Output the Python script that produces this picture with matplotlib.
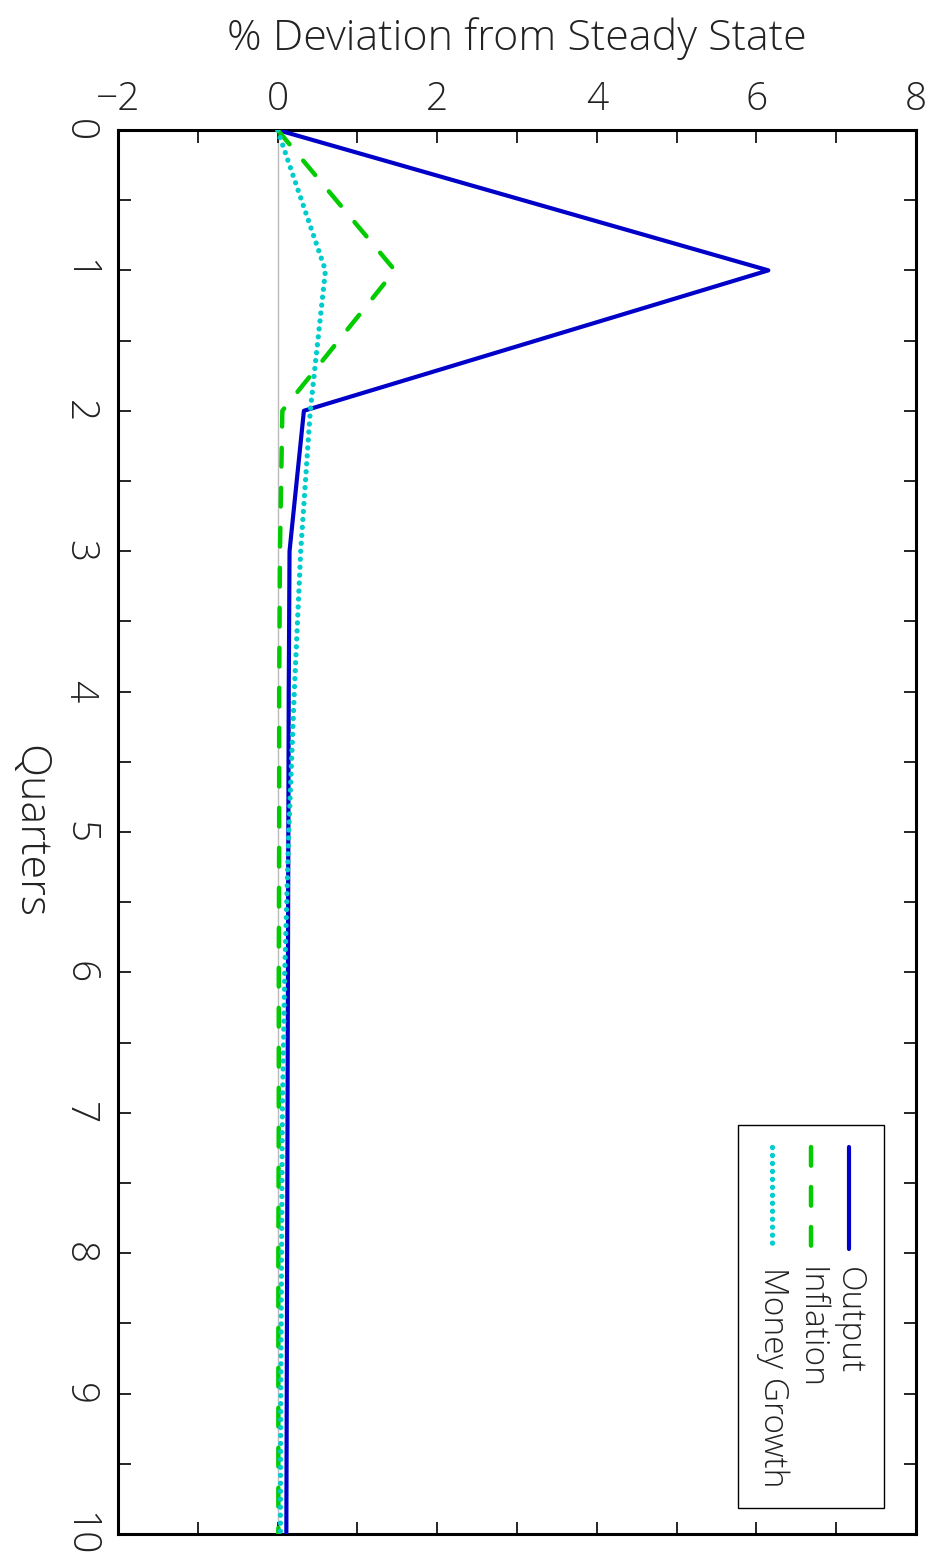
import matplotlib
matplotlib.use("Agg")
import matplotlib.pyplot as plt
from matplotlib.lines import Line2D
from matplotlib.patches import Rectangle

# 季度与各序列（偏离稳态的百分比）
quarters = [0, 1, 2, 3, 4, 5, 6, 7, 8, 9, 10]
output = [0.0, 6.15, 0.33, 0.15, 0.14, 0.135, 0.13, 0.125, 0.12, 0.115, 0.11]
inflation = [0.0, 1.47, 0.06, 0.03, 0.02, 0.02, 0.015, 0.015, 0.01, 0.01, 0.01]
money_growth = [0.0, 0.60, 0.41, 0.29, 0.21, 0.14, 0.09, 0.06, 0.05, 0.04, 0.035]

xticks = [-2, 0, 2, 4, 6, 8]
xticklabels = ["\u22122", "0", "2", "4", "6", "8"]
labels = ["Output", "Inflation", "Money Growth"]
colors = ["#0000c8", "#00cc00", "#00cccc"]
styles = ["-", (0, (4.2, 4.8)), (0, (0.01, 1.5))]
widths = [3, 3.2, 3.8]

txt = dict(family=["Open Sans", "DejaVu Sans"], fontweight="light", color="#222222")

fig = plt.figure(figsize=(9.34, 15.62), dpi=100)
ax = fig.add_axes([0.1263, 0.0179, 0.8544, 0.8989])

# 零线
ax.axvline(0, color="#bbbbbb", lw=1, zorder=1)

series = [output, inflation, money_growth]
for s, c, ls, w in zip(series, colors, styles, widths):
    ax.plot(s, quarters, color=c, lw=w, ls=ls,
            solid_capstyle="round", dash_capstyle="round", zorder=3)

ax.set_xlim(-2, 8)
ax.set_ylim(10, 0)
ax.set_xticks(xticks)
ax.set_xticks([-1, 1, 3, 5, 7], minor=True)
ax.set_yticks(quarters)
ax.set_yticks([q + 0.5 for q in quarters[:-1]], minor=True)

ax.tick_params(which="both", direction="in", top=True, bottom=True, left=True, right=True,
               labeltop=True, labelbottom=False, color="black", length=9, width=1.2)
ax.tick_params(axis="x", pad=8)
ax.tick_params(axis="y", pad=14)
for sp in ax.spines.values():
    sp.set_linewidth(2.2)

ax.set_xticklabels(xticklabels, fontsize=28, **txt)
ax.set_yticklabels([str(q) for q in quarters], fontsize=28, rotation=-90, va="center", **txt)

ax.xaxis.set_label_position("top")
ax.set_xlabel("% Deviation from Steady State", fontsize=31, labelpad=22, **txt)
fig.text(0.032, 0.4675, "Quarters", fontsize=31, rotation=-90, ha="center", va="center", **txt)

# 图例（旋转）
ax.add_patch(Rectangle((0.777, 0.0185), 0.183, 0.2725, transform=ax.transAxes,
                       fill=False, ec="black", lw=1, zorder=4))
leg_x = [0.916, 0.868, 0.820]
for lx, lab, c, ls, w in zip(leg_x, labels, colors, styles, widths):
    ax.add_line(Line2D([lx, lx], [0.276, 0.203], transform=ax.transAxes, color=c,
                       lw=w, ls=ls, solid_capstyle="round", dash_capstyle="round", zorder=5))
    ax.text(lx, 0.19, lab, transform=ax.transAxes, rotation=-90, ha="center", va="top",
            fontsize=24, zorder=5, **txt)

fig.savefig("out.png", dpi=100)
